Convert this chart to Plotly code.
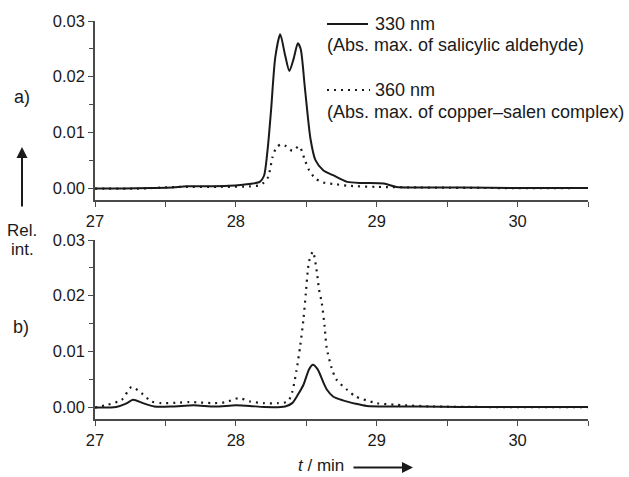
import plotly.graph_objects as go

# ---------------- data ----------------
# Panel a) solid: 330 nm
t_a330 = [27.0, 27.2, 27.4, 27.55, 27.65, 27.8, 27.95, 28.05, 28.12, 28.17, 28.2, 28.225, 28.25,
          28.28, 28.315, 28.35, 28.38, 28.41, 28.44, 28.46, 28.49, 28.53, 28.565, 28.62, 28.69,
          28.79, 28.9, 29.05, 29.14, 29.3, 29.6, 30.0, 30.5]
v_a330 = [-0.0001, -0.0001, 0.0, 0.0001, 0.0003, 0.0003, 0.0004, 0.0006, 0.0008, 0.0011, 0.0022, 0.0068, 0.0140,
          0.0235, 0.0276, 0.0238, 0.0210, 0.0232, 0.0260, 0.0250, 0.0180, 0.0088, 0.0050, 0.0032, 0.0023,
          0.0011, 0.0009, 0.0008, 0.0002, 0.0001, 0.0001, 0.0, 0.0]
# Panel a) dotted: 360 nm
t_a360 = [27.0, 27.3, 27.6, 27.9, 28.1, 28.17, 28.2, 28.23, 28.26, 28.29, 28.32, 28.35, 28.40,
          28.45, 28.49, 28.52, 28.565, 28.62, 28.7, 28.8, 29.0, 29.3, 29.8, 30.5]
v_a360 = [-0.0001, -0.0001, 0.0002, 0.0002, 0.0003, 0.0005, 0.0010, 0.0020, 0.0055, 0.0074, 0.0078, 0.0076, 0.0067,
          0.0075, 0.0050, 0.0032, 0.0017, 0.0010, 0.0007, 0.0004, 0.0002, 0.0001, 0.0, 0.0]
# Panel b) solid: 330 nm
t_b330 = [27.0, 27.15, 27.22, 27.27, 27.34, 27.42, 27.55, 27.7, 27.85, 28.0, 28.1, 28.2, 28.35,
          28.40, 28.44, 28.48, 28.52, 28.547, 28.58, 28.62, 28.647, 28.69, 28.76, 28.85, 28.93, 29.1,
          29.3, 29.6, 30.0, 30.5]
v_b330 = [-0.0001, 0.0, 0.0006, 0.0013, 0.0007, 0.0001, 0.0001, 0.0003, 0.0001, 0.0003, 0.0002, 0.0, 0.0001,
          0.0007, 0.0022, 0.0040, 0.0068, 0.0076, 0.0068, 0.0045, 0.0031, 0.0019, 0.0012, 0.0006, 0.0002, 0.0001,
          0.0001, 0.0, 0.0, 0.0]
# Panel b) dotted: 360 nm
t_b360 = [27.0, 27.09, 27.19, 27.26, 27.33, 27.40, 27.47, 27.6, 27.67, 27.75, 27.85, 27.93, 28.02, 28.1,
          28.2, 28.3, 28.37, 28.40, 28.43, 28.457, 28.48, 28.497, 28.51, 28.52, 28.547, 28.575, 28.59,
          28.61, 28.63, 28.645, 28.68, 28.715, 28.79, 28.85, 29.0, 29.14, 29.4, 29.8, 30.5]
v_b360 = [-0.0001, 0.0004, 0.0013, 0.0036, 0.0025, 0.0010, 0.0007, 0.0008, 0.0009, 0.0008, 0.0007, 0.0009, 0.0016, 0.0010,
          0.0007, 0.0007, 0.0010, 0.0027, 0.0065, 0.0110, 0.0158, 0.0205, 0.0243, 0.0262, 0.0279, 0.0243, 0.0212,
          0.0187, 0.0145, 0.0106, 0.0070, 0.0049, 0.0031, 0.0019, 0.0007, 0.0004, 0.0001, 0.0, 0.0]

x_ticks = [27, 28, 29, 30]
y_ticks = [0.00, 0.01, 0.02, 0.03]

FONT = "Liberation Sans, Arial, sans-serif"
INK = "#1a1a1a"
AX = "#4a4a4a"
DOT = "2px,5px"

fig = go.Figure()
line_kw = dict(shape="spline", smoothing=0.7)
fig.add_trace(go.Scatter(x=t_a330, y=v_a330, mode="lines", xaxis="x", yaxis="y",
                         line=dict(color=INK, width=2, **line_kw), showlegend=False))
fig.add_trace(go.Scatter(x=t_a360, y=v_a360, mode="lines", xaxis="x", yaxis="y",
                         line=dict(color=INK, width=2.2, dash=DOT, **line_kw), showlegend=False))
fig.add_trace(go.Scatter(x=t_b330, y=v_b330, mode="lines", xaxis="x2", yaxis="y2",
                         line=dict(color=INK, width=2, **line_kw), showlegend=False))
fig.add_trace(go.Scatter(x=t_b360, y=v_b360, mode="lines", xaxis="x2", yaxis="y2",
                         line=dict(color=INK, width=2.2, dash=DOT, **line_kw), showlegend=False))

xcommon = dict(range=[27, 30.5], showline=True, linecolor=AX, linewidth=1.5, ticks="outside",
               ticklen=5, tickwidth=1.3, tickcolor=AX, tickvals=x_ticks, ticktext=[str(v) for v in x_ticks],
               minor=dict(tickvals=[27.5, 28.5, 29.5, 30.5], ticks="outside", ticklen=5, tickwidth=1.3, tickcolor=AX),
               showgrid=False, zeroline=False, tickfont=dict(family=FONT, size=16.5, color=INK))
ycommon = dict(range=[-0.00215, 0.03], showline=True, linecolor=AX, linewidth=1.5, ticks="outside",
               ticklen=5, tickwidth=1.3, tickcolor=AX, tickvals=y_ticks, ticktext=[f"{v:.2f}" for v in y_ticks],
               minor=dict(tickvals=[0.005, 0.015, 0.025], ticks="outside", ticklen=4, tickwidth=1.3, tickcolor=AX),
               showgrid=False, zeroline=False, tickfont=dict(family=FONT, size=16.5, color=INK))

TOP = [0.5503, 1.0]
BOT = [0.0, 0.4497]
fig.update_layout(
    width=629, height=477,
    margin=dict(l=95, r=41, t=21, b=58),
    paper_bgcolor="white", plot_bgcolor="white",
    font=dict(family=FONT, color=INK),
    xaxis=dict(domain=[0, 1], anchor="y", **xcommon),
    yaxis=dict(domain=TOP, anchor="x", **ycommon),
    xaxis2=dict(domain=[0, 1], anchor="y2", **xcommon),
    yaxis2=dict(domain=BOT, anchor="x2", **ycommon),
)

def px(x):
    return (x - 95) / 493.0

def py(y):
    return (419 - y) / 398.0

# legend samples
fig.add_shape(type="line", xref="paper", yref="paper", x0=px(327), x1=px(368), y0=py(24), y1=py(24),
              line=dict(color=INK, width=2))
fig.add_shape(type="line", xref="paper", yref="paper", x0=px(327), x1=px(370), y0=py(90), y1=py(90),
              line=dict(color=INK, width=2.2, dash=DOT))

def txt(x, y, s, size=18, xanchor="left"):
    fig.add_annotation(x=px(x), y=py(y), xref="paper", yref="paper", text=s, showarrow=False,
                       xanchor=xanchor, yanchor="middle", font=dict(family=FONT, size=size, color=INK))

txt(373, 24, "330 nm")
txt(325, 45, "(Abs. max. of salicylic aldehyde)")
txt(373, 90, "360 nm")
txt(325, 112, "(Abs. max. of copper\u2013salen complex)")
txt(22, 97, "a)", xanchor="center")
txt(21, 327, "b)", xanchor="center")
txt(22, 230, "Rel.", size=17, xanchor="center")
txt(22, 249, "int.", size=17, xanchor="center")
txt(296, 465, "<i>t</i> / min", size=17)

# arrows
fig.add_annotation(x=px(22), y=py(147), xref="paper", yref="paper", ax=0, ay=61, axref="pixel", ayref="pixel",
                   text="", showarrow=True, arrowhead=2, arrowsize=1.1, arrowwidth=2, arrowcolor=INK)
fig.add_annotation(x=px(413), y=py(467.5), xref="paper", yref="paper", ax=-61, ay=0, axref="pixel", ayref="pixel",
                   text="", showarrow=True, arrowhead=2, arrowsize=1.1, arrowwidth=2, arrowcolor=INK)

fig.write_html("out.html", config={"displayModeBar": False},
               post_script="document.body.style.margin='0';document.body.style.overflow='hidden';")
